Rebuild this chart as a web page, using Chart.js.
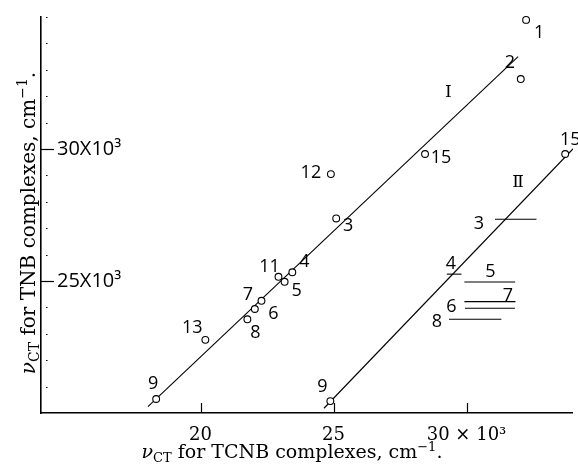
<!DOCTYPE html>
<html>
<head>
<meta charset="utf-8">
<script src="https://cdn.jsdelivr.net/npm/chart.js@4.4.1/dist/chart.umd.min.js"></script>
<style>
  html, body { margin: 0; padding: 0; background: #fff; }
  #wrap { width: 578px; height: 468px; position: relative; }
</style>
</head>
<body>
<div id="wrap"><canvas id="graph"></canvas></div>
<script>
// line I : TNB vs TCNB (x 10^3 cm-1)
const compoundsI = ['1', '2', '3', '4', '5', '6', '7', '8', '9', '11', '12', '13', '15'];
const tcnbI = [32.24, 32.04, 25.10, 23.45, 23.16, 22.29, 22.04, 21.76, 18.33, 22.93, 24.90, 20.18, 28.44];
const tnbI  = [34.89, 32.65, 27.37, 25.33, 24.97, 24.25, 23.94, 23.55, 20.53, 25.16, 29.05, 22.77, 29.81];

// line II : points
const compoundsII = ['9', '15'];
const tcnbII = [24.88, 33.71];
const tnbII  = [20.45, 29.81];

// line II : bars (range of TCNB value at given TNB value)
const barCompounds = ['3', '4', '5', '6', '7', '8'];
const barStart = [31.07, 29.26, 29.92, 29.92, 29.94, 29.34];
const barEnd   = [32.63, 29.81, 31.83, 31.84, 31.82, 31.31];
const barTnb   = [27.34, 25.26, 24.96, 24.22, 23.97, 23.55];

// fitted lines
const fitIx = [18.02, 31.94];
const fitIy = [20.24, 33.50];
const fitIIx = [24.64, 34.00];
const fitIIy = [20.18, 30.00];

// line names
const lineNames = ['Ⅰ', 'Ⅱ'];
const lineNameX = [29.32, 31.94];
const lineNameY = [32.12, 28.71];

// axis ticks
const xTicks = [20, 25, 30];
const yLabelled = [25, 30];

const ink = '#000';
const numFont = '"Open Sans"';

// where the numbers sit next to their mark (pixels)
const offI = {
    '1': [13, 13], '2': [-11, -16], '3': [12, 7], '4': [12, -10], '5': [12, 9],
    '6': [12, 13], '7': [-7, -14], '8': [8, 14], '9': [-3, -15], '11': [-9, -10],
    '12': [-20, -1], '13': [-13, -12], '15': [16, 4]
};
const offII = { '9': [-8, -14], '15': [5, -14] };
const offBar = {
    '3': [-16, 5], '4': [4, -10], '5': [26, -10], '6': [-13, 5], '7': [43, -12], '8': [-12, 3]
};

const pointStyle = {
    showLine: false,
    pointRadius: 3.4,
    pointBorderWidth: 1.1,
    pointBorderColor: ink,
    pointBackgroundColor: '#fff',
    clip: false
};
const lineStyle = {
    showLine: true,
    pointRadius: 0,
    borderColor: ink,
    borderWidth: 1.1
};

const datasets = [
    Object.assign({ label: 'I', data: tcnbI.map((x, i) => ({x: x, y: tnbI[i]})) }, pointStyle),
    Object.assign({ label: 'II', data: tcnbII.map((x, i) => ({x: x, y: tnbII[i]})) }, pointStyle),
    Object.assign({ label: 'fit I', data: fitIx.map((x, i) => ({x: x, y: fitIy[i]})) }, lineStyle),
    Object.assign({ label: 'fit II', data: fitIIx.map((x, i) => ({x: x, y: fitIIy[i]})) }, lineStyle)
];
barCompounds.forEach(function(c, i) {
    datasets.push(Object.assign({
        label: 'bar ' + c,
        data: [{x: barStart[i], y: barTnb[i]}, {x: barEnd[i], y: barTnb[i]}]
    }, lineStyle));
});

// inward tick marks on both axes
const axisTicks = {
    id: 'axisTicks',
    afterDraw(chart) {
        const {ctx, chartArea, scales: {x, y}} = chart;
        ctx.save();
        ctx.strokeStyle = ink;
        ctx.lineWidth = 1.2;
        y.ticks.forEach(function(t) {
            const py = Math.round(y.getPixelForValue(t.value)) + 0.5;
            ctx.beginPath();
            if (yLabelled.includes(t.value)) {
                ctx.moveTo(chartArea.left, py);
                ctx.lineTo(chartArea.left + 13, py);
            } else if (t.value > y.min) {
                ctx.moveTo(chartArea.left + 5, py);
                ctx.lineTo(chartArea.left + 6.5, py);
            }
            ctx.stroke();
        });
        x.ticks.forEach(function(t) {
            const px = Math.round(x.getPixelForValue(t.value)) + 0.5;
            ctx.beginPath();
            ctx.moveTo(px, chartArea.bottom);
            ctx.lineTo(px, chartArea.bottom - 10);
            ctx.stroke();
        });
        ctx.restore();
    }
};

// numbers and line names next to the marks
const markLabels = {
    id: 'markLabels',
    afterDatasetsDraw(chart) {
        const {ctx, scales: {x, y}} = chart;
        ctx.save();
        ctx.fillStyle = ink;
        ctx.textAlign = 'center';
        ctx.textBaseline = 'middle';
        ctx.font = '18px ' + numFont;
        const put = function(txt, vx, vy, off) {
            ctx.fillText(txt, x.getPixelForValue(vx) + off[0], y.getPixelForValue(vy) + off[1]);
        };
        compoundsI.forEach((c, i) => put(c, tcnbI[i], tnbI[i], offI[c]));
        compoundsII.forEach((c, i) => put(c, tcnbII[i], tnbII[i], offII[c]));
        barCompounds.forEach((c, i) => put(c, barStart[i], barTnb[i], offBar[c]));
        ctx.font = '17px "DejaVu Serif"';
        lineNames.forEach((n, i) => put(n, lineNameX[i], lineNameY[i], [0, 0]));
        ctx.restore();
    }
};

// axis titles with sub/superscripts
function richText(ctx, parts, cx, baseY, size) {
    const fontOf = p => (p.italic ? 'italic ' : '') + (p.sub || p.sup ? Math.round(size * 0.68) : size) + 'px "DejaVu Serif"';
    let total = 0;
    parts.forEach(function(p) { ctx.font = fontOf(p); total += ctx.measureText(p.t).width; });
    let px = cx - total / 2;
    parts.forEach(function(p) {
        ctx.font = fontOf(p);
        const dy = p.sub ? size * 0.22 : (p.sup ? -size * 0.38 : 0);
        ctx.fillText(p.t, px, baseY + dy);
        px += ctx.measureText(p.t).width;
    });
}
const axisTitles = {
    id: 'axisTitles',
    afterDraw(chart) {
        const {ctx} = chart;
        ctx.save();
        ctx.fillStyle = ink;
        ctx.textAlign = 'left';
        ctx.textBaseline = 'alphabetic';
        richText(ctx, [
            {t: 'ν', italic: true}, {t: 'CT', sub: true}, {t: ' for TCNB complexes, cm'},
            {t: '−1', sup: true}, {t: '.'}
        ], 292, 458, 19);
        ctx.translate(35, 223);
        ctx.rotate(-Math.PI / 2);
        richText(ctx, [
            {t: 'ν', italic: true}, {t: 'CT', sub: true}, {t: ' for TNB complexes, cm'},
            {t: '−1', sup: true}, {t: '.'}
        ], 0, 0, 20);
        ctx.restore();
    }
};

const noPad = s => { s.paddingTop = 0; s.paddingBottom = 0; s.paddingLeft = 0; s.paddingRight = 0; };

new Chart(document.querySelector('#graph'), {
    type: 'scatter',
    data: { datasets: datasets },
    plugins: [axisTicks, markLabels, axisTitles],
    options: {
        responsive: true,
        maintainAspectRatio: false,
        animation: false,
        layout: {
            padding: { top: 17, right: 2, left: 0, bottom: 0 }
        },
        plugins: {
            legend: { display: false },
            tooltip: { enabled: false }
        },
        scales: {
            x: {
                type: 'linear',
                min: 14,
                max: 34,
                afterBuildTicks: s => { s.ticks = xTicks.map(v => ({value: v})); },
                afterFit: s => { s.height = 55; noPad(s); },
                grid: { display: false, drawTicks: false },
                border: { display: true, color: ink, width: 1.6 },
                ticks: {
                    autoSkip: false,
                    maxRotation: 0,
                    padding: 12,
                    color: ink,
                    font: { family: 'DejaVu Serif', size: 18 },
                    callback: v => v === 30 ? '30 × 10³' : String(v)
                }
            },
            y: {
                type: 'linear',
                min: 20,
                max: 35,
                afterFit: s => { s.width = 41; noPad(s); },
                grid: { display: false, drawTicks: false },
                border: { display: true, color: ink, width: 1.6 },
                ticks: {
                    stepSize: 1,
                    autoSkip: false,
                    mirror: true,
                    padding: 16,
                    color: ink,
                    font: { family: 'Open Sans', size: 20 },
                    callback: v => yLabelled.includes(v) ? v + 'X10³' : ''
                }
            }
        }
    }
});
</script>
</body>
</html>
